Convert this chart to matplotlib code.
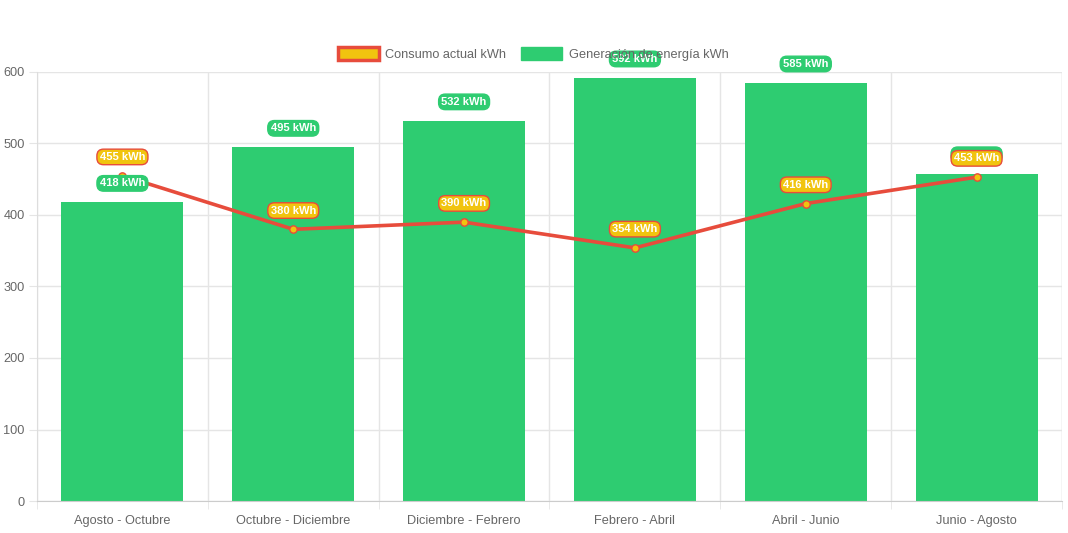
import matplotlib
matplotlib.use("Agg")
import matplotlib.pyplot as plt
import numpy as np
from matplotlib.patches import Patch

categories = ["Agosto - Octubre", "Octubre - Diciembre", "Diciembre - Febrero",
              "Febrero - Abril", "Abril - Junio", "Junio - Agosto"]
consumo = [455, 380, 390, 354, 416, 453]
generacion = [418, 495, 532, 592, 585, 458]
yticks = [0, 100, 200, 300, 400, 500, 600]

GREEN = "#2ecc71"
RED = "#e74c3c"
YELLOW = "#f1c40f"
TXT = "#666666"
GRID = "#e5e5e5"

plt.rcParams['font.family'] = ['Liberation Sans', 'DejaVu Sans']

fig = plt.figure(figsize=(10.68, 5.33), dpi=100)
ax = fig.add_axes([37/1068, 1 - 501/533, (1062-37)/1068, (501-72)/533])

x = np.arange(len(categories))
ax.bar(x, generacion, width=0.715, color=GREEN, zorder=2)
ax.plot(x, consumo, color=RED, lw=2.6, zorder=3)
ax.scatter(x, consumo, s=28, color=YELLOW, edgecolor=RED, linewidths=1, zorder=4)

ax.set_xlim(-0.5, len(categories) - 0.5)
ax.set_ylim(0, 600)
ax.set_yticks(yticks)
ax.set_xticks(x)
ax.set_xticklabels(categories)
ax.set_xticks(np.arange(-0.5, len(categories)), minor=True)
ax.tick_params(axis='x', which='major', length=0, pad=10, labelsize=9.2, labelcolor=TXT)
ax.tick_params(axis='x', which='minor', length=6, color=GRID)
ax.tick_params(axis='y', length=6, color=GRID, pad=3, labelsize=9.2, labelcolor=TXT)
ax.grid(True, which='minor', axis='x', color=GRID, lw=1, zorder=0)
ax.grid(True, which='major', axis='y', color=GRID, lw=1, zorder=0)
for s in ['top', 'right']:
    ax.spines[s].set_visible(False)
ax.spines['left'].set_color('#dddddd')
ax.spines['bottom'].set_color('#cccccc')
ax.axvline(len(categories) - 0.5, color=GRID, lw=1, zorder=0)

# value labels (offset in points)
for xi, v in zip(x, generacion):
    ax.annotate(f"{v} kWh", (xi, v), xytext=(0, 13.5), textcoords='offset points',
                ha='center', va='center', fontsize=8, fontweight='bold', color='white',
                bbox=dict(boxstyle='round,pad=0.25,rounding_size=0.6', fc=GREEN, ec=GREEN, lw=1),
                zorder=5)
for xi, v in zip(x, consumo):
    ax.annotate(f"{v} kWh", (xi, v), xytext=(0, 13.5), textcoords='offset points',
                ha='center', va='center', fontsize=8, fontweight='bold', color='white',
                bbox=dict(boxstyle='round,pad=0.25,rounding_size=0.6', fc=YELLOW, ec=RED, lw=1),
                zorder=6)

handles = [Patch(facecolor=YELLOW, edgecolor=RED, linewidth=2.5, label="Consumo actual kWh"),
           Patch(facecolor=GREEN, edgecolor=GREEN, label="Generación de energía kWh")]
fig.legend(handles=handles, loc='center', bbox_to_anchor=(533/1068, 1 - 54/533), ncol=2,
           frameon=False, fontsize=9.2, labelcolor=TXT, handlelength=3.2, handleheight=1.1,
           columnspacing=1.2, handletextpad=0.5)

fig.savefig("out.png", dpi=100)
